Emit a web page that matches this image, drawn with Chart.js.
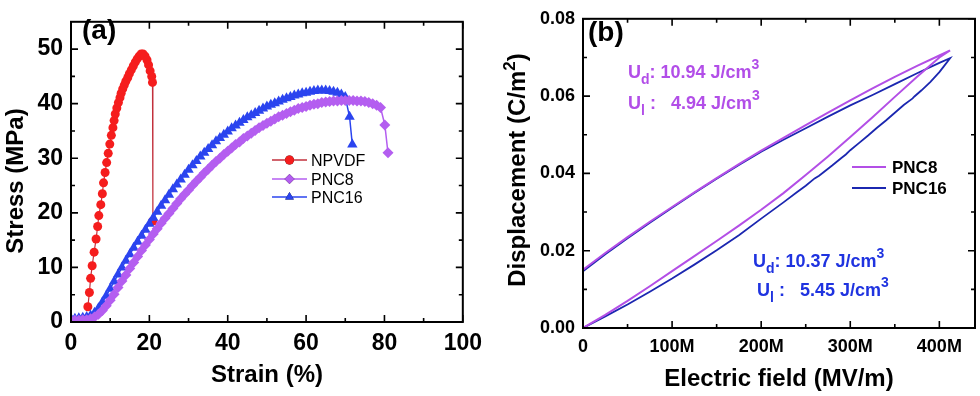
<!DOCTYPE html>
<html><head><meta charset="utf-8">
<script src="https://cdn.jsdelivr.net/npm/chart.js@4/dist/chart.umd.min.js"></script>
<style>
html,body{margin:0;padding:0;background:#fff;width:980px;height:396px;overflow:hidden}
canvas{position:absolute;top:0}
#ca{left:0}
#cb{left:490px}
</style></head><body>
<canvas id="ca" width="490" height="396"></canvas>
<canvas id="cb" width="490" height="396"></canvas>
<script>
const FONT = "'Liberation Sans', Arial, Helvetica, sans-serif";

// ---------- Panel (a): stress-strain ----------
const strainTicks = [0, 20, 40, 60, 80, 100];
const strainMinor = [10, 30, 50, 70, 90];
const stressTicks = [0, 10, 20, 30, 40, 50];
const stressMinor = [5, 15, 25, 35, 45];

const npvdfStrain = [4.3,4.7,5.0,5.4,5.9,6.4,6.8,7.1,7.6,8.0,8.3,8.7,9.1,9.5,9.9,10.3,10.7,11.0,11.3,11.7,12.1,12.5,12.8,13.2,13.6,14.0,14.5,14.9,15.4,15.9,16.4,16.9,17.4,17.9,18.4,18.9,19.4,19.8,20.2,20.6,20.8,20.9];
const npvdfStress = [2.8,5.4,8.0,10.3,12.8,15.2,17.5,19.5,21.5,23.5,25.5,27.4,29.2,30.9,32.6,34.2,35.6,36.9,38.1,39.2,40.2,41.1,41.9,42.7,43.4,44.1,44.8,45.5,46.2,46.9,47.6,48.2,48.7,49.1,49.1,48.7,48.0,47.1,46.0,45.0,43.9,18.5];

const pnc8Strain = [0,1,2,3,4,5,6,7,8,9,10,11,12,13,14,15,16,17,18,19,20,21,22,23,24,25,26,27,28,29,30,31,32,33,34,35,36,37,38,39,40,41,42,43,44,45,46,47,48,49,50,51,52,53,54,55,56,57,58,59,60,61,62,63,64,65,66,67,68,69,70,71,72,73,74,75,76,77,78,79,80.1,80.9];
const pnc8Stress = [0.3,0.3,0.3,0.4,0.4,0.6,0.9,1.4,2.1,3.0,4.0,5.1,6.3,7.5,8.6,9.8,10.9,12.0,13.1,14.1,15.1,16.1,17.1,18.1,19.0,19.9,20.8,21.7,22.6,23.4,24.2,25.0,25.8,26.5,27.3,28.0,28.7,29.4,30.0,30.7,31.3,31.9,32.5,33.0,33.6,34.1,34.6,35.1,35.6,36.0,36.4,36.8,37.2,37.6,37.9,38.2,38.5,38.8,39.1,39.3,39.5,39.7,39.9,40.0,40.2,40.3,40.4,40.5,40.5,40.6,40.6,40.6,40.6,40.5,40.5,40.4,40.2,40.0,39.7,39.3,36.1,31.0];

const pnc16Strain = [0,1,2,3,4,5,6,7,8,9,10,11,12,13,14,15,16,17,18,19,20,21,22,23,24,25,26,27,28,29,30,31,32,33,34,35,36,37,38,39,40,41,42,43,44,45,46,47,48,49,50,51,52,53,54,55,56,57,58,59,60,61,62,63,64,65,66,67,68,69,70,71.1,71.8];
const pnc16Stress = [0.6,0.6,0.7,0.8,0.9,1.2,1.7,2.5,3.6,4.8,6.1,7.4,8.7,10.0,11.2,12.4,13.6,14.7,15.8,16.9,18.0,19.1,20.2,21.3,22.3,23.3,24.3,25.2,26.1,27.0,27.9,28.7,29.5,30.3,31.0,31.7,32.4,33.1,33.7,34.3,34.9,35.5,36.0,36.5,37.0,37.5,37.9,38.3,38.7,39.1,39.5,39.8,40.1,40.4,40.7,41.0,41.2,41.5,41.7,41.9,42.0,42.2,42.3,42.4,42.4,42.4,42.3,42.2,42.0,41.7,41.2,37.6,32.5];

// ---------- Panel (b): D-E loops ----------
const fieldTicks = [0, 100, 200, 300, 400];
const fieldTickLabels = ['0', '100M', '200M', '300M', '400M'];
const fieldMinor = [50, 150, 250, 350];
const dispTicks = [0, 0.02, 0.04, 0.06, 0.08];
const dispTickLabels = ['0.00', '0.02', '0.04', '0.06', '0.08'];
const dispMinor = [0.01, 0.03, 0.05, 0.07];

const pnc8ChargeField = [0,25,50,75,100,125,150,175,200,225,250,275,300,325,350,375,400,412];
const pnc8ChargeDisp = [0,0.0034,0.0070,0.0108,0.0147,0.0186,0.0225,0.0265,0.0306,0.0349,0.0396,0.0444,0.0494,0.0545,0.0598,0.0650,0.0700,0.0718];
const pnc8DischargeField = [412,400,375,350,325,300,275,250,225,200,175,150,125,100,75,50,25,0];
const pnc8DischargeDisp = [0.0718,0.0705,0.0678,0.0650,0.0620,0.0589,0.0557,0.0525,0.0492,0.0459,0.0424,0.0388,0.0351,0.0313,0.0275,0.0235,0.0194,0.0151];

const pnc16ChargeField = [0,25,50,75,100,125,150,175,200,225,240,250,260,265,270,280,290,295,300,310,320,330,340,350,360,370,372,380,390,400,405,412];
const pnc16ChargeDisp = [0,0.0030,0.0061,0.0094,0.0128,0.0164,0.0201,0.0240,0.0283,0.0325,0.0351,0.0368,0.0387,0.0394,0.0403,0.0421,0.0440,0.0449,0.0460,0.0479,0.0498,0.0518,0.0537,0.0557,0.0577,0.0594,0.0599,0.0615,0.0637,0.0662,0.0677,0.0698];
const pnc16DischargeField = [412,400,375,350,325,300,275,250,225,200,175,150,125,100,75,50,25,0];
const pnc16DischargeDisp = [0.0698,0.0686,0.0659,0.0631,0.0603,0.0576,0.0547,0.0517,0.0487,0.0456,0.0422,0.0386,0.0349,0.0311,0.0272,0.0232,0.0191,0.0147];

// ---------- helpers ----------
const pts = (xs, ys) => xs.map((x, i) => ({x: x, y: ys[i]}));
const font = (size, weight) => (weight || 'bold') + ' ' + size + 'px ' + FONT;

function drawRuns(ctx, runs, x, y, center, color) {
  let total = 0;
  runs.forEach(r => { ctx.font = font(r.size, r.weight); r.w = ctx.measureText(r.t).width; total += r.w; });
  let cx = center ? x - total / 2 : x;
  ctx.fillStyle = color;
  ctx.textBaseline = 'alphabetic';
  ctx.textAlign = 'left';
  runs.forEach(r => { ctx.font = font(r.size, r.weight); ctx.fillText(r.t, cx, y + (r.dy || 0)); cx += r.w; });
}

function makeFrame(xMajor, xMinor, yMajor, yMinor) {
  return {
    id: 'frame',
    afterDatasetsDraw(chart) {
      const ctx = chart.ctx, a = chart.chartArea, sx = chart.scales.x, sy = chart.scales.y;
      ctx.save();
      ctx.strokeStyle = '#000';
      ctx.lineWidth = 1.6;
      ctx.beginPath();
      const tx = (vals, len) => vals.forEach(v => {
        const p = sx.getPixelForValue(v);
        ctx.moveTo(p, a.bottom); ctx.lineTo(p, a.bottom - len);
        ctx.moveTo(p, a.top); ctx.lineTo(p, a.top + len);
      });
      const ty = (vals, len) => vals.forEach(v => {
        const p = sy.getPixelForValue(v);
        ctx.moveTo(a.left, p); ctx.lineTo(a.left + len, p);
        ctx.moveTo(a.right, p); ctx.lineTo(a.right - len, p);
      });
      tx(xMajor, 7); tx(xMinor, 4); ty(yMajor, 7); ty(yMinor, 4);
      ctx.stroke();
      ctx.lineWidth = 2;
      ctx.strokeRect(a.left, a.top, a.right - a.left, a.bottom - a.top);
      ctx.restore();
    }
  };
}

function fixedTicks(values) {
  return function (scale) { scale.ticks = values.map(v => ({value: v})); };
}

// ---------- Chart (a) ----------
const RED = '#f51d1d', RED_LINE = '#c2303c', PURPLE = '#b45ef0', BLUE = '#2b44ef';

const textA = {
  id: 'textA',
  afterDraw(chart) {
    const ctx = chart.ctx;
    ctx.save();
    drawRuns(ctx, [{t: '(a)', size: 28}], 82, 39, false, '#000');
    drawRuns(ctx, [{t: 'Strain (%)', size: 24}], 267, 382, true, '#000');
    ctx.translate(23, 181); ctx.rotate(-Math.PI / 2);
    drawRuns(ctx, [{t: 'Stress (MPa)', size: 24}], 0, 0, true, '#000');
    ctx.restore();
    // legend
    const items = [
      {label: 'NPVDF', ds: 0, y: 160, r: 4.5},
      {label: 'PNC8', ds: 1, y: 179, r: 5},
      {label: 'PNC16', ds: 2, y: 197, r: 5}
    ];
    ctx.save();
    items.forEach(it => {
      const d = chart.data.datasets[it.ds];
      ctx.strokeStyle = d.borderColor; ctx.lineWidth = 1.5;
      ctx.beginPath(); ctx.moveTo(272, it.y); ctx.lineTo(307, it.y); ctx.stroke();
      ctx.beginPath();
      Chart.helpers.drawPoint(ctx, {pointStyle: d.pointStyle, radius: it.r, borderWidth: 0, rotation: 0}, 289.5, it.y);
      ctx.fillStyle = d.pointBackgroundColor; ctx.fill();
      drawRuns(ctx, [{t: it.label, size: 16, weight: 'normal'}], 311, it.y + 6, false, '#000');
    });
    ctx.restore();
  }
};

new Chart(document.getElementById('ca'), {
  type: 'line',
  data: {
    datasets: [
      {label: 'NPVDF', data: pts(npvdfStrain, npvdfStress), order: 3,
       borderColor: RED_LINE, borderWidth: 1.2, pointStyle: 'circle', pointRadius: 4.5,
       pointBackgroundColor: RED, pointBorderColor: RED, pointBorderWidth: 0},
      {label: 'PNC8', data: pts(pnc8Strain, pnc8Stress), order: 1,
       borderColor: PURPLE, borderWidth: 1.5, pointStyle: 'rectRot', pointRadius: 5.5,
       pointBackgroundColor: PURPLE, pointBorderColor: PURPLE, pointBorderWidth: 0},
      {label: 'PNC16', data: pts(pnc16Strain, pnc16Stress), order: 2,
       borderColor: BLUE, borderWidth: 1.5, pointStyle: 'triangle', pointRadius: 6,
       pointBackgroundColor: BLUE, pointBorderColor: BLUE, pointBorderWidth: 0}
    ]
  },
  options: {
    responsive: false, animation: false, devicePixelRatio: 1,
    layout: {padding: {left: 0, right: 27, top: 6, bottom: 0}},
    plugins: {legend: {display: false}, tooltip: {enabled: false}},
    elements: {line: {tension: 0}},
    scales: {
      x: {type: 'linear', min: 0, max: 100,
          afterBuildTicks: fixedTicks(strainTicks),
          afterFit: s => { s.height = 74; },
          grid: {display: false, drawTicks: false}, border: {display: false},
          ticks: {padding: 8, color: '#000', font: {family: FONT, size: 23, weight: 'bold'}, maxRotation: 0, autoSkip: false}},
      y: {type: 'linear', min: 0, max: 55,
          afterBuildTicks: fixedTicks(stressTicks),
          afterFit: s => { s.width = 71; },
          grid: {display: false, drawTicks: false}, border: {display: false},
          ticks: {padding: 8, color: '#000', font: {family: FONT, size: 23, weight: 'bold'}, autoSkip: false}}
    }
  },
  plugins: [makeFrame(strainTicks, strainMinor, stressTicks, stressMinor), textA]
});

// ---------- Chart (b) ----------
const B_PURPLE = '#b34fe6', B_BLUE = '#1b27b0', T_PURPLE = '#b24ee8', T_BLUE = '#1f33e0';

const textB = {
  id: 'textB',
  afterDraw(chart) {
    const ctx = chart.ctx;
    ctx.save();
    drawRuns(ctx, [{t: '(b)', size: 28}], 98, 41, false, '#000');
    drawRuns(ctx, [{t: 'Electric field (MV/m)', size: 24}], 289, 386, true, '#000');
    ctx.save();
    ctx.translate(35, 170); ctx.rotate(-Math.PI / 2);
    drawRuns(ctx, [{t: 'Displacement (C/m', size: 24}, {t: '2', size: 17, dy: -10}, {t: ')', size: 24}], 0, 0, true, '#000');
    ctx.restore();
    // energy annotations
    drawRuns(ctx, [{t: 'U', size: 18}, {t: 'd', size: 14, dy: 6}, {t: ': 10.94 J/cm', size: 18}, {t: '3', size: 14, dy: -9}], 138, 78, false, T_PURPLE);
    drawRuns(ctx, [{t: 'U', size: 18}, {t: 'l', size: 14, dy: 6}, {t: ' :   4.94 J/cm', size: 18}, {t: '3', size: 14, dy: -9}], 138, 109, false, T_PURPLE);
    drawRuns(ctx, [{t: 'U', size: 18}, {t: 'd', size: 14, dy: 6}, {t: ': 10.37 J/cm', size: 18}, {t: '3', size: 14, dy: -9}], 263, 267, false, T_BLUE);
    drawRuns(ctx, [{t: 'U', size: 18}, {t: 'l', size: 14, dy: 6}, {t: ' :   5.45 J/cm', size: 18}, {t: '3', size: 14, dy: -9}], 267, 296, false, T_BLUE);
    // legend
    const items = [{label: 'PNC8', ds: 0, y: 167}, {label: 'PNC16', ds: 1, y: 188}];
    items.forEach(it => {
      const d = chart.data.datasets[it.ds];
      ctx.strokeStyle = d.borderColor; ctx.lineWidth = 2;
      ctx.beginPath(); ctx.moveTo(362, it.y); ctx.lineTo(396, it.y); ctx.stroke();
      drawRuns(ctx, [{t: it.label, size: 17}], 402, it.y + 6, false, '#000');
    });
    ctx.restore();
  }
};

new Chart(document.getElementById('cb'), {
  type: 'line',
  data: {
    datasets: [
      {label: 'PNC8', order: 1, borderColor: B_PURPLE, borderWidth: 2, pointRadius: 0,
       data: pts(pnc8ChargeField.concat(pnc8DischargeField), pnc8ChargeDisp.concat(pnc8DischargeDisp))},
      {label: 'PNC16', order: 2, borderColor: B_BLUE, borderWidth: 1.8, pointRadius: 0,
       data: pts(pnc16ChargeField.concat(pnc16DischargeField), pnc16ChargeDisp.concat(pnc16DischargeDisp))}
    ]
  },
  options: {
    responsive: false, animation: false, devicePixelRatio: 1,
    layout: {padding: {left: 0, right: 5, top: 12, bottom: 0}},
    plugins: {legend: {display: false}, tooltip: {enabled: false}},
    elements: {line: {tension: 0}},
    scales: {
      x: {type: 'linear', min: 0, max: 440,
          afterBuildTicks: fixedTicks(fieldTicks),
          afterFit: s => { s.height = 68; },
          grid: {display: false, drawTicks: false}, border: {display: false},
          ticks: {padding: 8, color: '#000', font: {family: FONT, size: 18, weight: 'bold'}, maxRotation: 0, autoSkip: false,
                  callback: (v) => fieldTickLabels[fieldTicks.indexOf(v)]}},
      y: {type: 'linear', min: 0, max: 0.08,
          afterBuildTicks: fixedTicks(dispTicks),
          afterFit: s => { s.width = 93; },
          grid: {display: false, drawTicks: false}, border: {display: false},
          ticks: {padding: 8, color: '#000', font: {family: FONT, size: 18, weight: 'bold'}, autoSkip: false,
                  callback: (v) => dispTickLabels[dispTicks.indexOf(v)]}}
    }
  },
  plugins: [makeFrame(fieldTicks, fieldMinor, dispTicks, dispMinor), textB]
});
</script>
</body></html>
